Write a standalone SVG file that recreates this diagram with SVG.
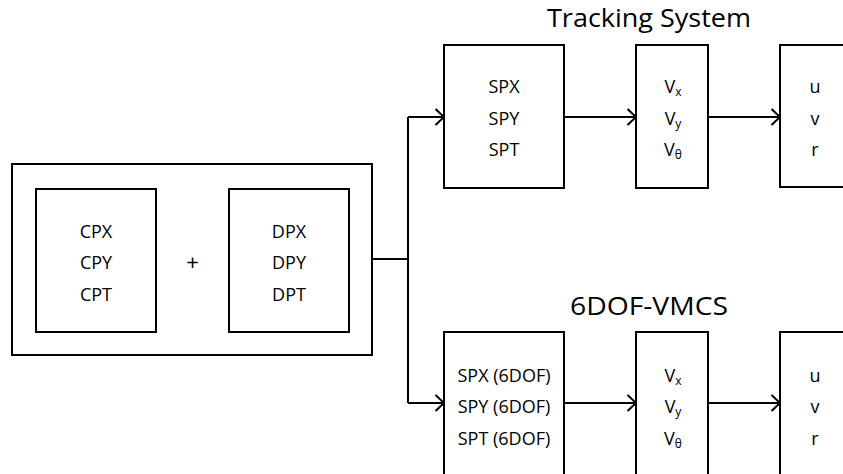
<svg xmlns="http://www.w3.org/2000/svg" width="843" height="474" viewBox="0 0 843 474">
  <style>
    .box { fill: #ffffff; stroke: #000000; stroke-width: 2; }
    .wire { fill: none; stroke: #000000; stroke-width: 2; }
    .lbl { font-family: "Open Sans", "Liberation Sans", sans-serif; font-size: 18px; fill: #000000; text-anchor: middle; }
    .sub { font-size: 12px; }
    .title { font-family: "Open Sans", "Liberation Sans", sans-serif; font-size: 25px; fill: #000000; text-anchor: middle; }
  </style>
  <defs>
    <marker id="chev" markerUnits="userSpaceOnUse" markerWidth="12" markerHeight="20" viewBox="-10 -10 12 20" refX="0" refY="0" orient="auto">
      <path d="M-8.5,-8 L0,0 L-8.5,8" fill="none" stroke="#000000" stroke-width="2"/>
    </marker>
  </defs>
  <rect width="843" height="474" fill="#ffffff"/>

  <!-- combined position block -->
  <g id="combined">
    <rect class="box" x="12" y="164" width="360" height="191"/>
    <g id="cp">
      <rect class="box" x="36" y="189" width="120" height="143"/>
      <text class="lbl" x="96" y="237.5">CPX</text>
      <text class="lbl" x="96" y="269">CPY</text>
      <text class="lbl" x="96" y="300.5">CPT</text>
    </g>
    <text class="lbl" x="192.5" y="270" style="font-size:22px">+</text>
    <g id="dp">
      <rect class="box" x="229" y="189" width="120" height="143"/>
      <text class="lbl" x="289" y="237.5">DPX</text>
      <text class="lbl" x="289" y="269">DPY</text>
      <text class="lbl" x="289" y="300.5">DPT</text>
    </g>
  </g>

  <!-- connectors -->
  <g id="connectors">
    <path class="wire" d="M372,259 H408 M408,117 V403"/>
    <path class="wire" d="M408,117 H444" marker-end="url(#chev)"/>
    <path class="wire" d="M408,403 H444" marker-end="url(#chev)"/>
    <path class="wire" d="M564,117 H636" marker-end="url(#chev)"/>
    <path class="wire" d="M708,117 H780" marker-end="url(#chev)"/>
    <path class="wire" d="M564,403 H636" marker-end="url(#chev)"/>
    <path class="wire" d="M708,403 H780" marker-end="url(#chev)"/>
  </g>

  <!-- tracking system row -->
  <text id="title-tracking" class="title" x="649" y="27" textLength="204" lengthAdjust="spacingAndGlyphs">Tracking System</text>
  <g id="sp">
    <rect class="box" x="444" y="45" width="120" height="143"/>
    <text class="lbl" x="504" y="93">SPX</text>
    <text class="lbl" x="504" y="124.5">SPY</text>
    <text class="lbl" x="504" y="156">SPT</text>
  </g>
  <g id="v-track">
    <rect class="box" x="636" y="45" width="72" height="143"/>
    <text class="lbl" x="673" y="93">V<tspan class="sub" dy="3">x</tspan></text>
    <text class="lbl" x="673" y="124.5">V<tspan class="sub" dy="3">y</tspan></text>
    <text class="lbl" x="673" y="156">V<tspan class="sub" dy="3">θ</tspan></text>
  </g>
  <g id="uvr-track">
    <rect class="box" x="780" y="45" width="72" height="142"/>
    <text class="lbl" x="815" y="93">u</text>
    <text class="lbl" x="815" y="124.5">v</text>
    <text class="lbl" x="815" y="156">r</text>
  </g>

  <!-- 6DOF-VMCS row -->
  <text id="title-6dof" class="title" x="649" y="315" textLength="158" lengthAdjust="spacingAndGlyphs">6DOF-VMCS</text>
  <g id="sp-6dof">
    <rect class="box" x="444" y="332" width="120" height="160"/>
    <text class="lbl" x="504" y="381.5">SPX (6DOF)</text>
    <text class="lbl" x="504" y="413">SPY (6DOF)</text>
    <text class="lbl" x="504" y="444.5">SPT (6DOF)</text>
  </g>
  <g id="v-6dof">
    <rect class="box" x="636" y="332" width="72" height="160"/>
    <text class="lbl" x="673" y="381.5">V<tspan class="sub" dy="3">x</tspan></text>
    <text class="lbl" x="673" y="413">V<tspan class="sub" dy="3">y</tspan></text>
    <text class="lbl" x="673" y="444.5">V<tspan class="sub" dy="3">θ</tspan></text>
  </g>
  <g id="uvr-6dof">
    <rect class="box" x="780" y="332" width="72" height="160"/>
    <text class="lbl" x="815" y="381.5">u</text>
    <text class="lbl" x="815" y="413">v</text>
    <text class="lbl" x="815" y="444.5">r</text>
  </g>
</svg>
